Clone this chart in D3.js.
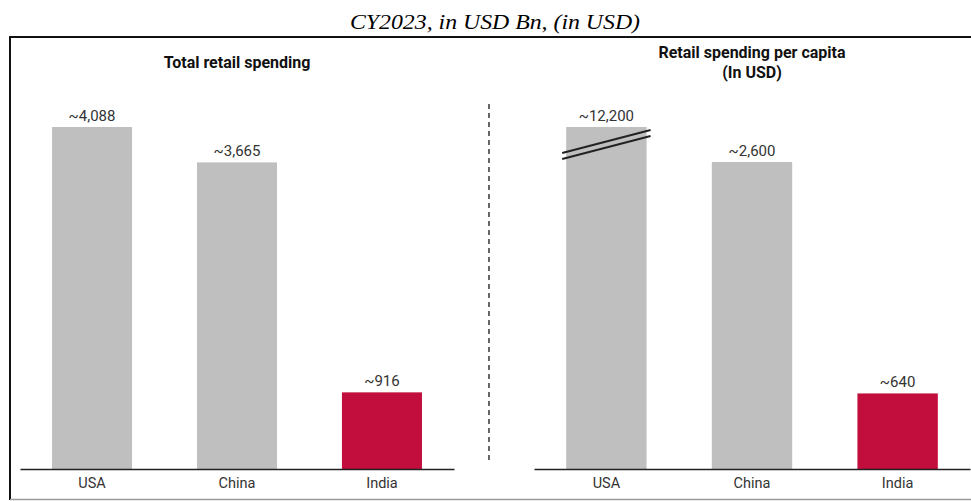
<!DOCTYPE html>
<html><head><meta charset="utf-8">
<script src="https://cdn.jsdelivr.net/npm/d3@7"></script>
<style>
html,body{margin:0;padding:0;background:#fff;}
svg text{font-family:Roboto, "Noto Sans", sans-serif;}
</style></head>
<body><svg id="chart" width="971" height="501"></svg>
<script>
const categories = ["USA", "China", "India"];
const totalSpending = [4088, 3665, 916];
const perCapita = [12200, 2600, 640];
const totalLabels = ["~4,088", "~3,665", "~916"];
const perCapitaLabels = ["~12,200", "~2,600", "~640"];
const highlight = "India";

const svg = d3.select("#chart");
const W = 971, H = 501;
const GRAY = "#bfbfbf", RED = "#c20e3d";

svg.append("text").attr("x", 495).attr("y", 29).attr("text-anchor", "middle")
  .style("font-family", "'Liberation Serif', 'Times New Roman', serif")
  .style("font-style", "italic").style("font-size", "20px").attr("fill", "#000")
  .attr("textLength", 290).attr("lengthAdjust", "spacingAndGlyphs")
  .text("CY2023, in USD Bn, (in USD)");

// frame
svg.append("line").attr("x1", 10).attr("x2", W).attr("y1", 37).attr("y2", 37).attr("stroke", "#111").attr("stroke-width", 2);
svg.append("line").attr("x1", 10).attr("x2", 10).attr("y1", 36).attr("y2", 500).attr("stroke", "#111").attr("stroke-width", 2);
svg.append("line").attr("x1", 10).attr("x2", W).attr("y1", 499.5).attr("y2", 499.5).attr("stroke", "#9a9a9a").attr("stroke-width", 1.5);

const baseY = 469, topY = 127;

function panel(x0, x1, values, labels, yMax, titleLines, titleX, titleY) {
  const x = d3.scaleBand().domain(categories).range([x0, x1]).paddingInner(0.448).paddingOuter(0.221);
  const y = d3.scaleLinear().domain([0, yMax]).range([baseY, topY]).clamp(true);
  const g = svg.append("g");
  g.selectAll("rect").data(categories).join("rect")
    .attr("x", d => x(d)).attr("width", x.bandwidth())
    .attr("y", (d, i) => y(values[i])).attr("height", (d, i) => baseY - y(values[i]))
    .attr("fill", d => d === highlight ? RED : GRAY);
  g.selectAll("text.v").data(categories).join("text").attr("class", "v")
    .attr("x", d => x(d) + x.bandwidth() / 2).attr("y", (d, i) => y(values[i]) - 6)
    .attr("text-anchor", "middle").style("font-size", "15px").attr("fill", "#333")
    .text((d, i) => labels[i]);
  const ax = g.append("g").attr("transform", `translate(0,${baseY})`)
    .call(d3.axisBottom(x).tickSize(0).tickPadding(9));
  ax.select(".domain").attr("stroke", "#222").attr("stroke-width", 1.5);
  ax.selectAll("text").style("font-size", "14.5px").style("font-family", "Roboto, sans-serif").attr("fill", "#333");
  const t = g.append("text").attr("x", titleX).attr("text-anchor", "middle")
    .style("font-size", "16px").style("font-weight", "bold").attr("fill", "#111");
  titleLines.forEach((l, i) => t.append("tspan").attr("x", titleX).attr("y", titleY + i * 20).text(l));
  return {x, y};
}

const left = panel(20, 454, totalSpending, totalLabels, 4088, ["Total retail spending"], 237, 68);
const right = panel(534, 970, perCapita, perCapitaLabels, 2600 * (baseY - topY) / 307, ["Retail spending per capita", "(In USD)"], 752, 58);

// dashed divider
svg.append("line").attr("x1", 489).attr("x2", 489).attr("y1", 104).attr("y2", 461)
  .attr("stroke", "#666").attr("stroke-width", 2).attr("stroke-dasharray", "5,4");

// break marks on USA per-capita bar
const bx = right.x("USA"), bw = right.x.bandwidth();
[[153, 130], [159, 136]].forEach(([ya, yb]) => {
  svg.append("line").attr("x1", bx - 4).attr("y1", ya).attr("x2", bx + bw + 4).attr("y2", yb)
    .attr("stroke", "#222").attr("stroke-width", 2);
});
</script></body></html>
